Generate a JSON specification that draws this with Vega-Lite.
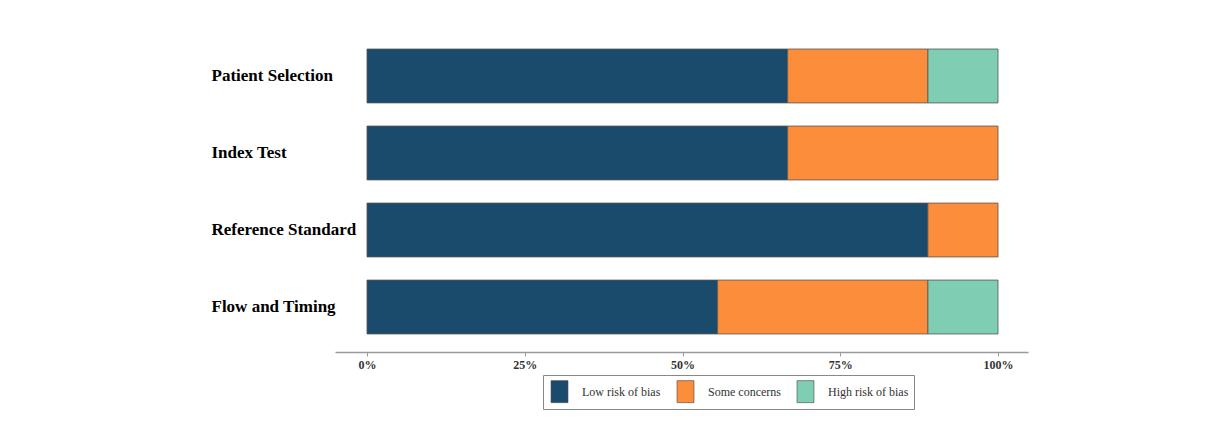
{
  "$schema": "https://vega.github.io/schema/vega-lite/v6.json",
  "padding": {"left": 211, "top": 31, "right": 10, "bottom": 5},
  "width": 693,
  "height": 321,
  "background": "white",
  "data": {
    "values": [
      {"domain": "Patient Selection", "judgement": "Low risk of bias", "value": 0.6667},
      {"domain": "Patient Selection", "judgement": "Some concerns", "value": 0.2222},
      {"domain": "Patient Selection", "judgement": "High risk of bias", "value": 0.1111},
      {"domain": "Index Test", "judgement": "Low risk of bias", "value": 0.6667},
      {"domain": "Index Test", "judgement": "Some concerns", "value": 0.3333},
      {"domain": "Reference Standard", "judgement": "Low risk of bias", "value": 0.8889},
      {"domain": "Reference Standard", "judgement": "Some concerns", "value": 0.1111},
      {"domain": "Flow and Timing", "judgement": "Low risk of bias", "value": 0.5556},
      {"domain": "Flow and Timing", "judgement": "Some concerns", "value": 0.3333},
      {"domain": "Flow and Timing", "judgement": "High risk of bias", "value": 0.1111}
    ]
  },
  "transform": [
    {"calculate": "indexof(['Low risk of bias','Some concerns','High risk of bias'], datum.judgement)", "as": "rank"}
  ],
  "mark": {"type": "bar", "stroke": "#555555", "strokeWidth": 0.8},
  "encoding": {
    "y": {
      "field": "domain",
      "type": "nominal",
      "sort": ["Patient Selection", "Index Test", "Reference Standard", "Flow and Timing"],
      "scale": {"paddingInner": 0.3, "paddingOuter": 0.234},
      "axis": {
        "title": null,
        "domain": false,
        "ticks": false,
        "tickSize": 0,
        "labelAlign": "left",
        "labelPadding": 124,
        "labelFont": "Liberation Serif",
        "labelFontWeight": "bold",
        "labelFontSize": 17,
        "labelColor": "#000000"
      }
    },
    "x": {
      "field": "value",
      "type": "quantitative",
      "stack": "zero",
      "scale": {"domain": [-0.0507, 1.0475], "nice": false, "zero": false},
      "axis": {
        "title": null,
        "values": [0, 0.25, 0.5, 0.75, 1],
        "format": ".0%",
        "grid": false,
        "domainColor": "#9a9a9a",
        "domainWidth": 1.5,
        "tickColor": "#9a9a9a",
        "tickSize": 4,
        "labelPadding": 3,
        "labelFont": "Liberation Serif",
        "labelFontWeight": "bold",
        "labelFontSize": 12,
        "labelColor": "#333333"
      }
    },
    "color": {
      "field": "judgement",
      "type": "nominal",
      "scale": {
        "domain": ["Low risk of bias", "Some concerns", "High risk of bias"],
        "range": ["#1b4b6c", "#fc8d3a", "#7fcdb2"]
      },
      "legend": {
        "title": null,
        "orient": "none",
        "direction": "horizontal",
        "legendX": 208,
        "legendY": 344,
        "strokeColor": "#888888",
        "padding": 5,
        "columnPadding": 13,
        "symbolType": "M-0.77,-1H0.77V1H-0.77Z",
        "symbolSize": 484,
        "symbolStrokeColor": "#444444",
        "symbolStrokeWidth": 0.6,
        "symbolOpacity": 1,
        "labelOffset": 11,
        "labelFont": "Liberation Serif",
        "labelFontSize": 12,
        "labelColor": "#333333"
      }
    },
    "order": {"field": "rank", "type": "quantitative"}
  },
  "config": {"view": {"stroke": null}}
}
